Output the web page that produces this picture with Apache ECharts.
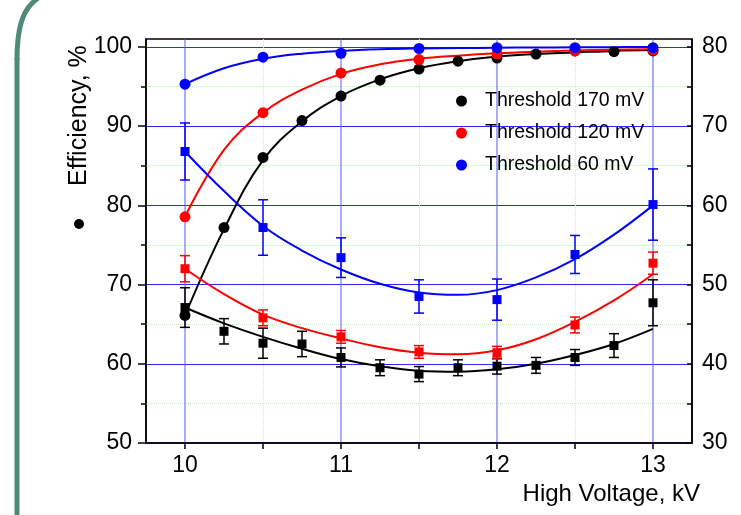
<!DOCTYPE html>
<html>
<head>
<meta charset="utf-8">
<script src="https://cdn.jsdelivr.net/npm/echarts@6/dist/echarts.min.js"></script>
<style>
html,body{margin:0;padding:0;background:#fff;}
#chart{width:741px;height:515px;}
</style>
</head>
<body>
<div id="chart"></div>
<script>
// ---- data ----
var hvHalf = [10, 10.5, 11, 11.5, 12, 12.5, 13];
var hvQuarter = [10, 10.25, 10.5, 10.75, 11, 11.25, 11.5, 11.75, 12, 12.25, 12.5, 12.75, 13];

var seriesNames = ['Threshold 170 mV', 'Threshold 120 mV', 'Threshold 60 mV'];
var seriesColors = ['#000000', '#ff0000', '#0000ff'];

// efficiency (circles, left axis)
var eff170 = [66.1, 77.2, 86.05, 90.7, 93.8, 95.8, 97.2, 98.2, 98.6, 99.1, 99.5, 99.4, 99.5];
var eff120 = [78.55, 91.7, 96.7, 98.4, 99.1, 99.5, 99.6];
var eff60  = [95.3, 98.7, 99.2, 99.8, 99.9, 99.9, 99.9];

// efficiency fit curves (at quarter steps)
var fitEff170 = [66.1, 77.0, 85.7, 90.6, 93.8, 95.9, 97.3, 98.2, 98.8, 99.1, 99.3, 99.5, 99.6];
var fitEff120 = [78.55, 87.0, 91.7, 94.6, 96.6, 97.8, 98.5, 98.9, 99.2, 99.4, 99.55, 99.65, 99.7];
var fitEff60  = [95.3, 97.3, 98.5, 99.15, 99.5, 99.7, 99.8, 99.85, 99.9, 99.92, 99.95, 99.97, 100.0];

// squares (right axis) with error bars
var res170 = [47.1, 44.1, 42.6, 42.5, 40.8, 39.5, 38.7, 39.5, 39.7, 39.8, 40.8, 42.3, 47.7];
var err170 = [2.5, 1.6, 1.9, 1.6, 1.2, 1.0, 0.95, 1.0, 1.0, 1.0, 1.0, 1.5, 2.9];
var res120 = [52.0, 45.8, 43.4, 41.5, 41.4, 44.9, 52.7];
var err120 = [1.65, 1.0, 0.8, 0.8, 0.8, 1.0, 1.4];
var res60  = [66.8, 57.2, 53.4, 48.5, 48.1, 53.8, 60.1];
var err60  = [3.6, 3.5, 2.5, 2.1, 2.6, 2.4, 4.5];

// square fit curves (quarter steps)
var fitRes170 = [47.1, 45.1, 43.4, 41.9, 40.6, 39.7, 39.1, 39.0, 39.3, 40.0, 41.1, 42.5, 44.4];
var fitRes120 = [52.0, 48.8, 46.2, 44.5, 43.2, 42.1, 41.4, 41.2, 41.7, 43.1, 45.3, 48.0, 51.3];
var fitRes60  = [66.8, 61.8, 57.4, 54.3, 51.9, 50.1, 49.0, 48.7, 49.3, 50.9, 53.2, 56.3, 60.0];

// axis ticks
var xMajorTicks = [10, 11, 12, 13];
var xAllTicks = [10, 10.5, 11, 11.5, 12, 12.5, 13];
var xMinorGrid = [10.5, 11.5, 12.5];
var yLeftTicks = [50, 60, 70, 80, 90, 100];
var yRightTicks = [30, 40, 50, 60, 70, 80];

var FONT = '"Liberation Sans", Arial, sans-serif';

function zip(xs, ys) { return xs.map(function (x, i) { return [x, ys[i]]; }); }
function zip3(xs, ys, es) { return xs.map(function (x, i) { return [x, ys[i], es[i]]; }); }

function errRenderer(color) {
  return function (params, api) {
    var x = api.value(0), y = api.value(1), e = api.value(2);
    var t = api.coord([x, y + e]);
    var b = api.coord([x, y - e]);
    var w = 5;
    var st = { stroke: color, lineWidth: 1.5 };
    return {
      type: 'group',
      children: [
        { type: 'line', shape: { x1: t[0], y1: t[1], x2: b[0], y2: b[1] }, style: st },
        { type: 'line', shape: { x1: t[0] - w, y1: t[1], x2: t[0] + w, y2: t[1] }, style: st },
        { type: 'line', shape: { x1: b[0] - w, y1: b[1], x2: b[0] + w, y2: b[1] }, style: st }
      ]
    };
  };
}

var chart = echarts.init(document.getElementById('chart'), null, { renderer: 'canvas' });

var circleData = [zip(hvQuarter, eff170), zip(hvHalf, eff120), zip(hvHalf, eff60)];
var fitEffData = [zip(hvQuarter, fitEff170), zip(hvQuarter, fitEff120), zip(hvQuarter, fitEff60)];
var squareData = [zip(hvQuarter, res170), zip(hvHalf, res120), zip(hvHalf, res60)];
var errData = [zip3(hvQuarter, res170, err170), zip3(hvHalf, res120, err120), zip3(hvHalf, res60, err60)];
var fitResData = [zip(hvQuarter, fitRes170), zip(hvQuarter, fitRes120), zip(hvQuarter, fitRes60)];

var series = [];
for (var k = 0; k < 3; k++) {
  var c = seriesColors[k];
  series.push({
    name: 'fitRes' + k, type: 'line', xAxisIndex: 0, yAxisIndex: 1, data: fitResData[k],
    smooth: 0.4, showSymbol: false, lineStyle: { color: c, width: 2 }, z: 3, silent: true
  });
  series.push({
    name: 'err' + k, type: 'custom', xAxisIndex: 0, yAxisIndex: 1, data: errData[k],
    renderItem: errRenderer(c), z: 4, silent: true, encode: { x: 0, y: 1 }
  });
  series.push({
    name: 'sq' + k, type: 'scatter', xAxisIndex: 0, yAxisIndex: 1, data: squareData[k],
    symbol: 'rect', symbolSize: 9, itemStyle: { color: c, opacity: 1 }, z: 5, silent: true
  });
  series.push({
    name: 'fitEff' + k, type: 'line', xAxisIndex: 0, yAxisIndex: 0, data: fitEffData[k],
    smooth: 0.4, showSymbol: false, lineStyle: { color: c, width: 2 }, z: 3, silent: true
  });
}
for (var k2 = 0; k2 < 3; k2++) {
  series.push({
    name: seriesNames[k2], type: 'scatter', xAxisIndex: 0, yAxisIndex: 0, data: circleData[k2],
    symbol: 'circle', symbolSize: 11, itemStyle: { color: seriesColors[k2], opacity: 1 }, z: 6, silent: true
  });
}

var option = {
  animation: false,
  backgroundColor: '#ffffff',
  grid: { left: 146, right: 49, top: 39, bottom: 72, show: true, borderColor: '#000', borderWidth: 1.5, backgroundColor: 'transparent' },
  legend: {
    data: seriesNames, orient: 'vertical', left: 456, top: 91, padding: 0,
    itemWidth: 11, itemHeight: 11, itemGap: 12, icon: 'circle',
    itemStyle: { opacity: 1 },
    textStyle: { fontSize: 19.5, color: '#000', fontFamily: FONT, lineHeight: 20, padding: [0, 0, 0, 13] }
  },
  xAxis: [
    {
      type: 'value', min: 9.75, max: 13.25, position: 'bottom',
      axisLine: { lineStyle: { color: '#000', width: 1.5 } },
      axisTick: { customValues: xAllTicks, length: 6, lineStyle: { color: '#000', width: 1.5 } },
      axisLabel: { customValues: xMajorTicks, fontSize: 23, color: '#000', margin: 11, fontFamily: FONT },
      splitLine: { show: false }
    },
    {
      type: 'value', min: 9.75, max: 13.25, position: 'top',
      axisLine: { show: false },
      axisTick: { show: false, customValues: xMajorTicks },
      axisLabel: { show: false, customValues: xMajorTicks },
      splitLine: { show: true, lineStyle: { color: 'rgba(90,90,255,0.5)', width: 2 } }
    },
    {
      type: 'value', min: 9.75, max: 13.25, position: 'top',
      axisLine: { show: false },
      axisTick: { show: false, customValues: xMinorGrid },
      axisLabel: { show: false, customValues: xMinorGrid },
      splitLine: { show: true, lineStyle: { color: '#bfeebf', width: 1, type: 'dotted' } }
    }
  ],
  yAxis: [
    {
      type: 'value', min: 50, max: 101, interval: 10, position: 'left',
      axisLine: { show: true, lineStyle: { color: '#000', width: 1.5 } },
      axisTick: { show: true, customValues: yLeftTicks, length: 8, lineStyle: { color: '#000', width: 1.5 } },
      minorTick: { show: true, splitNumber: 2, length: 5, lineStyle: { color: '#000', width: 1.5 } },
      axisLabel: { customValues: yLeftTicks, fontSize: 23, color: '#000', margin: 14, fontFamily: FONT },
      splitLine: { show: true, lineStyle: { color: '#2a2aff', width: 1 } },
      minorSplitLine: { show: true, lineStyle: { color: '#bfeebf', width: 1, type: 'dotted' } }
    },
    {
      type: 'value', min: 30, max: 81, interval: 10, position: 'right',
      axisLine: { show: true, lineStyle: { color: '#000', width: 1.5 } },
      axisTick: { show: true, inside: true, customValues: yRightTicks, length: 5, lineStyle: { color: '#000', width: 1.5 } },
      minorTick: { show: true, splitNumber: 2, length: 5, lineStyle: { color: '#000', width: 1.5 } },
      axisLabel: { customValues: yRightTicks, fontSize: 23, color: '#000', margin: 10, fontFamily: FONT },
      splitLine: { show: false }
    }
  ],
  graphic: [
    { type: 'line', shape: { x1: 17, y1: 58, x2: 17, y2: 520 }, style: { stroke: '#4f8a78', lineWidth: 5 }, silent: true },
    { type: 'bezierCurve', shape: { x1: 17, y1: 60, cpx1: 17, cpy1: 15, cpx2: 28, cpy2: 2, x2: 48, y2: -8 }, style: { stroke: '#4f8a78', lineWidth: 5, fill: null }, silent: true },
    { type: 'circle', shape: { cx: 79, cy: 224, r: 5 }, style: { fill: '#000' }, silent: true },
    { type: 'text', x: 79, y: 186, rotation: Math.PI / 2,
      style: { text: 'Efficiency, %', font: '25px ' + FONT, fill: '#000', textAlign: 'left', textVerticalAlign: 'middle', verticalAlign: 'middle' }, silent: true },
    { type: 'text', x: 700, y: 494,
      style: { text: 'High Voltage, kV', font: '24px ' + FONT, fill: '#000', textAlign: 'right', textVerticalAlign: 'middle', verticalAlign: 'middle' }, silent: true }
  ],
  series: series
};

chart.setOption(option);
</script>
</body>
</html>
